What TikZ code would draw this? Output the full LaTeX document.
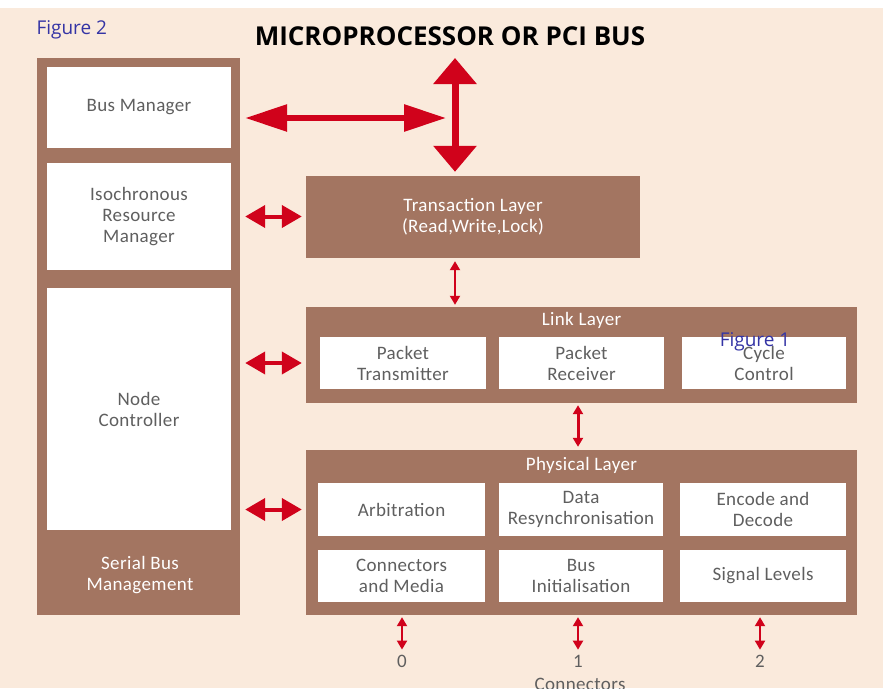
\documentclass[tikz,border=0pt]{standalone}
\usepackage{fontspec}
\usepackage{xcolor}
\usetikzlibrary{arrows.meta}
\newfontfamily\labelfont{Carlito}[LetterSpace=2]
\newfontfamily\figfont{Open Sans}
\definecolor{paper}{RGB}{250,234,220}
\definecolor{busbrown}{RGB}{163,117,97}
\definecolor{busred}{RGB}{208,2,27}
\definecolor{labelgrey}{RGB}{95,95,95}
\definecolor{figblue}{RGB}{52,52,165}
\tikzset{
  outerbox/.style={fill=busbrown, draw=none},
  innerbox/.style={fill=white, draw=none, text=labelgrey, font=\labelfont\fontsize{19}{21}\selectfont, align=center, inner sep=1pt},
  outertext/.style={text=white, font=\labelfont\fontsize{19}{21}\selectfont, align=center, inner sep=1pt},
  conntext/.style={text=labelgrey, font=\labelfont\fontsize{19}{21}\selectfont, inner sep=1pt},
  bigarrow/.style={busred, line width=6pt, {Triangle[length=42pt, width=26pt]}-{Triangle[length=42pt, width=26pt]}},
  vertarrow/.style={busred, line width=7pt, {Triangle[length=26pt, width=42pt]}-{Triangle[length=26pt, width=42pt]}},
  midarrow/.style={busred, line width=4pt, {Triangle[length=20pt, width=22pt]}-{Triangle[length=20pt, width=22pt]}},
  thinarrow/.style={busred, line width=2pt, {Triangle[length=9pt, width=10pt]}-{Triangle[length=9pt, width=10pt]}},
}

\begin{document}
\begin{tikzpicture}[x=1pt, y=-1pt]
\useasboundingbox (0,0) rectangle (883,688);
\clip (0,0) rectangle (883,688);
\fill[paper] (0,8) rectangle (883,688);

% captions
\node[text=figblue, font=\figfont\fontsize{19}{21}\selectfont, anchor=west] (fig2) at (33,30) {Figure 2};
\node[font=\figfont\bfseries\fontsize{26}{28}\selectfont] (cpu) at (450,36) {MICROPROCESSOR OR PCI BUS};

% serial bus management column
\node[outerbox, minimum width=203, minimum height=557] (sbm) at (138.5,336.5) {};
\node[innerbox, minimum width=184, minimum height=81] (busmgr) at (139,107.5) {Bus Manager};
\node[innerbox, minimum width=184, minimum height=107] (iso) at (139,216.5) {Isochronous\\Resource\\Manager};
\node[innerbox, minimum width=184, minimum height=242] (nodectl) at (139,409) {Node\\Controller};
\node[outertext] (sbmlabel) at (140,575) {Serial Bus\\Management};

% transaction layer
\node[outerbox, outertext, minimum width=334, minimum height=82] (trans) at (473,217) {Transaction Layer\\(Read,Write,Lock)};

% link layer
\node[outerbox, minimum width=551, minimum height=96] (link) at (581.5,355) {};
\node[outertext] (linklabel) at (581.5,320) {Link Layer};
\node[innerbox, minimum width=166, minimum height=52] (ptx) at (403,363) {Packet\\Transmitter};
\node[innerbox, minimum width=165, minimum height=52] (prx) at (581.5,363) {Packet\\Receiver};
\node[innerbox, minimum width=164, minimum height=52] (cycle) at (764,363) {Cycle\\Control};

% physical layer
\node[outerbox, minimum width=551, minimum height=165] (phys) at (581.5,532.5) {};
\node[outertext] (physlabel) at (581.5,465) {Physical Layer};
\node[innerbox, minimum width=167, minimum height=53] (arb) at (401.5,509.5) {Arbitration};
\node[innerbox, minimum width=164, minimum height=53] (resync) at (581,509.5) {Data\\Resynchronisation};
\node[innerbox, minimum width=166, minimum height=53] (encode) at (763,509.5) {Encode and\\Decode};
\node[innerbox, minimum width=167, minimum height=52] (media) at (401.5,576) {Connectors\\and Media};
\node[innerbox, minimum width=164, minimum height=52] (businit) at (581,576) {Bus\\Initialisation};
\node[innerbox, minimum width=166, minimum height=52] (signal) at (763,576) {Signal Levels};

% connectors
\node[conntext] (conn0) at (402,661) {0};
\node[conntext] (conn1) at (578,661) {1};
\node[conntext] (conn2) at (760,661) {2};
\node[conntext] (connlabel) at (580,684) {Connectors};

\node[text=figblue, font=\figfont\fontsize{19}{21}\selectfont] (fig1) at (755,342) {Figure 1};

% arrows
\coordinate (busjoin) at (446,118);
\coordinate (cpubus) at (455,58);
\draw[bigarrow] ([xshift=5pt]sbm.east |- busjoin) -- (busjoin);
\draw[vertarrow] (cpubus) -- ([yshift=4pt]trans.north -| cpubus);
\draw[midarrow] ([xshift=5pt]sbm.east |- iso) -- ([xshift=-4pt]trans.west |- iso);
\draw[midarrow] ([xshift=5pt]sbm.east |- ptx) -- ([xshift=-4pt]link.west |- ptx);
\draw[midarrow] ([xshift=5pt]sbm.east |- arb) -- ([xshift=-4pt]phys.west |- arb);
\draw[thinarrow] ([yshift=-3pt]trans.south -| cpubus) -- ([yshift=2pt]link.north -| cpubus);
\draw[thinarrow, line width=3pt] ([yshift=-2pt]link.south -| conn1) -- ([yshift=3pt]phys.north -| conn1);
\draw[thinarrow] ([yshift=-2pt]phys.south -| conn0) -- ([yshift=4pt]conn0.north);
\draw[thinarrow] ([yshift=-2pt]phys.south -| conn1) -- ([yshift=4pt]conn1.north);
\draw[thinarrow] ([yshift=-2pt]phys.south -| conn2) -- ([yshift=4pt]conn2.north);
\end{tikzpicture}
\end{document}
